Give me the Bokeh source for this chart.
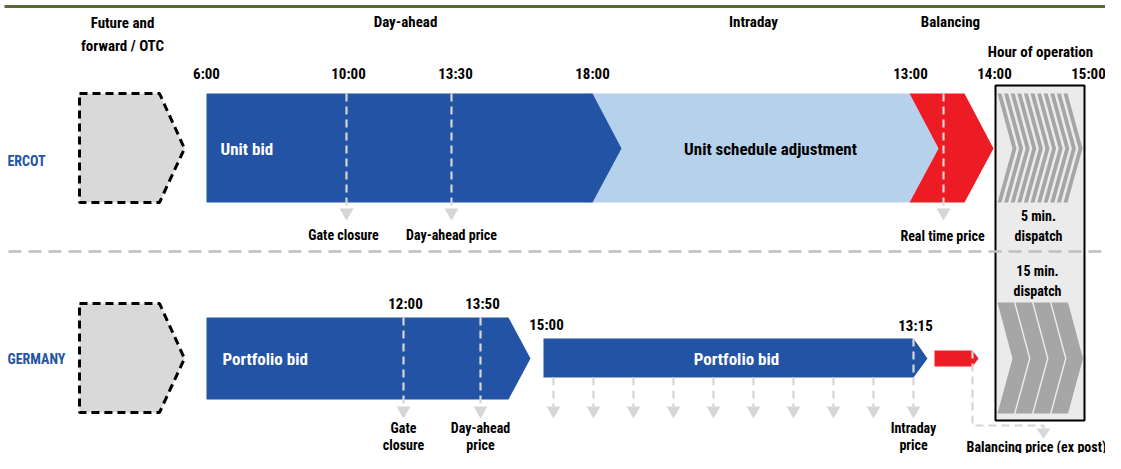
from bokeh.plotting import figure
from bokeh.models import Range1d, ColumnDataSource
from bokeh.core.properties import value
from bokeh.embed import file_html
from bokeh.resources import INLINE

FONT = value("Roboto Condensed")

BLUE = "#2353a4"
LIGHT_BLUE = "#b6d1ec"
RED = "#ed1c24"
PENT_GRAY = "#d9d9d9"
ARROW_GRAY = "#d6d6d6"
STRIPE_GRAY = "#a6a6a6"
BOX_GRAY = "#ebebeb"
SEP_GRAY = "#bfbfbf"

# ---------------- data (diagram content) ----------------
phase_labels = ["Future and\nforward / OTC", "Day-ahead", "Intraday", "Balancing", "Hour of operation"]
phase_x = [122, 405, 753, 950, 1040]
phase_y = [34, 21, 21, 21, 51]

ercot_times = ["6:00", "10:00", "13:30", "18:00", "13:00", "14:00", "15:00"]
ercot_time_x = [206, 348, 455, 592, 910, 994, 1088]
ercot_time_y = [73, 73, 73, 73, 73, 73, 73]

germany_times = ["12:00", "13:50", "15:00", "13:15"]
germany_time_x = [405, 482, 546, 915]
germany_time_y = [303, 303, 324, 325]

row_labels = ["ERCOT", "GERMANY"]
row_label_x = [26, 36]
row_label_y = [160, 358]

otc_xs = [[79, 159, 184, 159, 79], [79, 159, 184, 159, 79]]
otc_ys = [[93, 93, 148, 202, 202], [303, 303, 358, 412, 412]]

bar_xs = [
    [585, 909, 938, 909, 585],            # ERCOT unit schedule adjustment
    [206, 592, 621, 592, 206],            # ERCOT unit bid
    [909, 964, 993, 964, 909, 938],       # ERCOT balancing
    [206, 508, 530, 508, 206],            # Germany day-ahead portfolio bid
    [543, 913, 927, 913, 543],            # Germany intraday portfolio bid
    [934, 972, 978, 972, 934],            # Germany balancing
]
bar_ys = [
    [93, 93, 148, 202, 202],
    [93, 93, 148, 202, 202],
    [93, 93, 148, 202, 202, 148],
    [317, 317, 358, 399, 399],
    [338, 338, 358, 377, 377],
    [350, 350, 358, 366, 366],
]
bar_colors = [LIGHT_BLUE, BLUE, RED, BLUE, BLUE, RED]

bar_texts = ["Unit bid", "Unit schedule adjustment", "Portfolio bid", "Portfolio bid"]
bar_text_x = [220, 770, 222, 736]
bar_text_y = [148, 148, 358, 358]
bar_text_align = ["left", "center", "left", "center"]
bar_text_color = ["white", "black", "white", "white"]

arrow_x = [346, 451, 943, 403, 480, 553, 593, 633, 673, 713, 753, 793, 833, 873, 913]
arrow_top = [93, 93, 93, 317, 317, 377, 377, 377, 377, 377, 377, 377, 377, 377, 338]
arrow_tip = [220, 220, 220, 418, 418, 418, 418, 418, 418, 418, 418, 418, 418, 418, 418]

bottom_labels = ["Gate closure", "Day-ahead price", "Real time price",
                 "Gate\nclosure", "Day-ahead\nprice", "Intraday\nprice"]
bottom_x = [343, 451, 942, 403, 480, 913]
bottom_y = [234, 234, 235, 436, 436, 436]

expost_label = ["Balancing price (ex post)"]

dispatch_labels = ["5 min.\ndispatch", "15 min.\ndispatch"]
dispatch_x = [1038, 1037]
dispatch_y = [225, 280]

# ---------------- figure ----------------
p = figure(width=1105, height=453, x_range=Range1d(0, 1105), y_range=Range1d(453, 0),
           output_backend="svg", toolbar_location=None, min_border=0,
           x_axis_location=None, y_axis_location=None)
p.grid.visible = False
p.outline_line_color = None
p.background_fill_color = "white"
p.border_fill_color = "white"

p.line([4, 1105], [6, 6], line_color="#5a6a30", line_width=3)

p.patch([995, 1084, 1084, 995], [85, 85, 420, 420], fill_color=BOX_GRAY,
        line_color="black", line_width=2)

s_xs, s_ys = [], []
for i in range(11):
    x0 = 997 + i * 6.6
    s_xs.append([x0, x0 + 4, x0 + 19, x0 + 4, x0, x0 + 15])
    s_ys.append([93, 93, 148, 202, 202, 148])
for i in range(4):
    x0 = 997 + i * 18
    s_xs.append([x0, x0 + 16.5, x0 + 31.5, x0 + 16.5, x0, x0 + 15])
    s_ys.append([302, 302, 358, 413, 413, 358])
p.patches(s_xs, s_ys, fill_color=STRIPE_GRAY, line_color=None)

p.line([8, 1105], [251, 251], line_color=SEP_GRAY, line_width=2.5, line_dash="13 7")

p.patches(otc_xs, otc_ys, fill_color=PENT_GRAY, line_color="black", line_width=3,
          line_dash="8 5")

p.patches(bar_xs, bar_ys, fill_color=bar_colors, line_color=None)

p.multi_line([[x, x] for x in arrow_x],
             [[t, tip - 12] for t, tip in zip(arrow_top, arrow_tip)],
             line_color=ARROW_GRAY, line_width=2.2, line_dash="8 5")
head_xs = [[x - 7, x + 7, x] for x in arrow_x]
head_ys = [[tip - 12, tip - 12, tip] for tip in arrow_tip]
p.line([972, 972, 1043, 1043], [350, 425, 425, 428], line_color=ARROW_GRAY,
       line_width=2.2, line_dash="8 5")
head_xs.append([1036, 1050, 1043])
head_ys.append([428, 428, 438])
p.patches(head_xs, head_ys, fill_color=ARROW_GRAY, line_color=None)


def txt(xs, ys, labels, size, color="black", align="center", lh=1.2):
    src = ColumnDataSource(dict(x=xs, y=ys, t=labels))
    p.text(x="x", y="y", text="t", source=src, text_font=FONT,
           text_font_size=size, text_font_style="bold", text_color=color,
           text_align=align, text_baseline="middle", text_line_height=lh)


txt(phase_x, phase_y, phase_labels, "15px", lh=1.3)
txt(ercot_time_x, ercot_time_y, ercot_times, "15px")
txt(germany_time_x, germany_time_y, germany_times, "15px")
txt(row_label_x, row_label_y, row_labels, "14px", color=BLUE)
txt(bottom_x[:3], bottom_y[:3], bottom_labels[:3], "14px")
txt(bottom_x[3:], bottom_y[3:], bottom_labels[3:], "14px", lh=1.1)
txt([1036], [446], expost_label, "14px")
txt(dispatch_x, dispatch_y, dispatch_labels, "14px", lh=1.25)

src_bar = ColumnDataSource(dict(x=bar_text_x, y=bar_text_y, t=bar_texts,
                                a=bar_text_align, c=bar_text_color))
p.text(x="x", y="y", text="t", source=src_bar, text_font=FONT, text_font_size="17px",
       text_font_style="bold", text_color="c", text_align="a", text_baseline="middle")

open("out.html", "w").write(file_html(p, INLINE))
